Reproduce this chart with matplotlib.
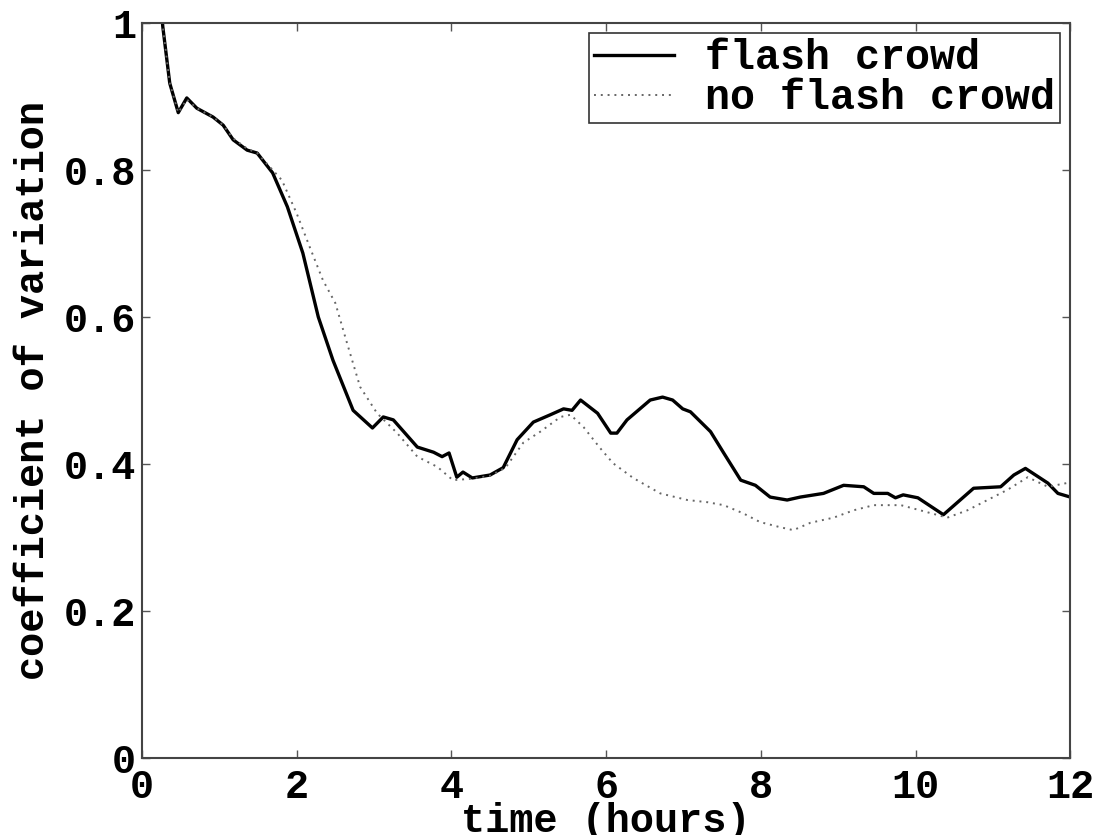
import numpy as np
import matplotlib.pyplot as plt

# 数据
t_flash = [0.25, 0.27, 0.36, 0.47, 0.58, 0.71, 0.92, 1.05, 1.18, 1.36, 1.49, 1.69, 1.88,
           2.08, 2.28, 2.47, 2.73, 2.98, 3.12, 3.25, 3.56, 3.77, 3.88, 3.97, 4.07, 4.15,
           4.27, 4.50, 4.67, 4.85, 5.06, 5.28, 5.45, 5.56, 5.67, 5.89, 6.06, 6.14, 6.27,
           6.57, 6.73, 6.86, 6.99, 7.09, 7.35, 7.52, 7.74, 7.93, 8.12, 8.34, 8.51, 8.81,
           9.07, 9.33, 9.46, 9.64, 9.74, 9.84, 10.03, 10.36, 10.75, 11.10, 11.27, 11.42,
           11.71, 11.84, 12.0]
v_flash = [1.02, 0.995, 0.918, 0.878, 0.898, 0.884, 0.872, 0.861, 0.841, 0.827, 0.823, 0.796,
           0.750, 0.687, 0.600, 0.541, 0.473, 0.449, 0.464, 0.460, 0.423, 0.416, 0.410, 0.415,
           0.382, 0.389, 0.381, 0.385, 0.395, 0.433, 0.457, 0.467, 0.475, 0.473, 0.487, 0.469,
           0.442, 0.442, 0.460, 0.487, 0.491, 0.487, 0.475, 0.471, 0.444, 0.415, 0.378, 0.371,
           0.355, 0.351, 0.355, 0.360, 0.371, 0.369, 0.360, 0.360, 0.354, 0.358, 0.354, 0.331,
           0.367, 0.369, 0.385, 0.394, 0.374, 0.360, 0.355]

t_noflash = [0.25, 0.27, 0.36, 0.47, 0.58, 0.71, 0.92, 1.05, 1.18, 1.36, 1.49, 1.69, 1.81,
             2.00, 2.17, 2.34, 2.50, 2.65, 2.82, 3.04, 3.30, 3.56, 3.82, 4.02, 4.27, 4.50,
             4.70, 4.93, 5.15, 5.41, 5.54, 5.71, 5.92, 6.09, 6.35, 6.70, 7.05, 7.31, 7.52,
             7.77, 7.99, 8.25, 8.42, 8.64, 8.94, 9.20, 9.46, 9.81, 10.06, 10.41, 10.67, 10.93,
             11.19, 11.45, 11.71, 12.0]
v_noflash = [1.02, 0.995, 0.918, 0.878, 0.896, 0.884, 0.872, 0.861, 0.843, 0.829, 0.823, 0.800,
             0.786, 0.741, 0.695, 0.650, 0.619, 0.565, 0.505, 0.469, 0.442, 0.410, 0.396, 0.378,
             0.380, 0.384, 0.395, 0.429, 0.444, 0.464, 0.467, 0.450, 0.422, 0.401, 0.381, 0.360,
             0.351, 0.348, 0.344, 0.333, 0.321, 0.314, 0.310, 0.320, 0.327, 0.337, 0.344, 0.344,
             0.337, 0.327, 0.337, 0.351, 0.365, 0.382, 0.369, 0.375]

xticks = [0, 2, 4, 6, 8, 10, 12]
yticks = [0, 0.2, 0.4, 0.6, 0.8, 1]
ytick_labels = ["0", "0.2", "0.4", "0.6", "0.8", "1"]

# 字体
plt.rcParams['font.family'] = ['Liberation Mono', 'DejaVu Sans Mono']
plt.rcParams['font.weight'] = 'bold'

fig = plt.figure(figsize=(11, 8.35), dpi=100)
ax = fig.add_axes([0.129, 0.0922, 0.844, 0.8803])

ax.plot(t_flash, v_flash, color="black", linewidth=2.4, label="flash crowd")
ax.plot(t_noflash, v_noflash, color="#666666", linewidth=1.4, linestyle=(0, (1, 2.5)),
        label="no flash crowd")

ax.set_xlim(0, 12)
ax.set_ylim(0, 1)
ax.set_xticks(xticks)
ax.set_yticks(yticks)
ax.set_yticklabels(ytick_labels)
ax.tick_params(direction="in", length=6, width=1, top=True, right=True,
               labelsize=29, colors="#555555", labelcolor="black", pad=4)
ax.tick_params(axis="x", pad=7)
for sp in ax.spines.values():
    sp.set_linewidth(1.5)
    sp.set_color("#444444")

ax.set_xlabel("time (hours)", fontsize=29, fontweight="bold")
ax.xaxis.set_label_coords(0.5, -0.06)
ax.set_ylabel("coefficient of variation", fontsize=29, fontweight="bold")
ax.yaxis.set_label_coords(-0.097, 0.5)

leg = ax.legend(loc="upper right", fontsize=30, frameon=True, fancybox=False,
                borderpad=0.12, labelspacing=0.0, handlelength=1.9,
                handletextpad=0.75, borderaxespad=0.25)
leg.get_frame().set_edgecolor("black")
leg.get_frame().set_linewidth(1.2)

plt.savefig("out.png", dpi=100)
